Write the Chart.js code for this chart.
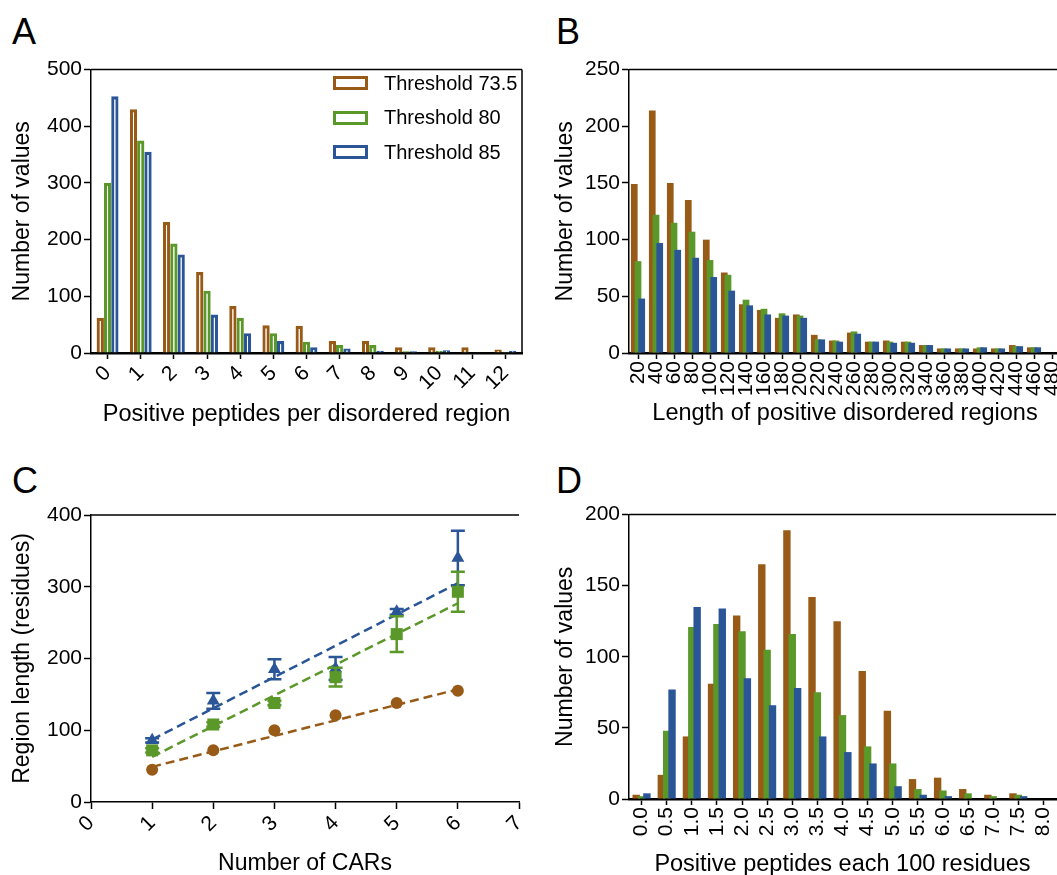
<!DOCTYPE html>
<html>
<head>
<meta charset="utf-8">
<script src="https://cdn.jsdelivr.net/npm/chart.js@4.4.0/dist/chart.umd.min.js"></script>
<style>
  html, body { margin: 0; padding: 0; background: #fff; width: 1057px; height: 875px; overflow: hidden; }
  canvas { position: absolute; }
  .letter { position: absolute; font-family: "Liberation Sans", Arial, sans-serif; font-size: 36px; line-height: 1; color: #000; }
  #legendA { position: absolute; left: 333px; top: 66px; font-family: "Liberation Sans", Arial, sans-serif; font-size: 20px; color: #000; }
  #legendA div { height: 34.5px; display: flex; align-items: center; }
  #legendA span.box { display: inline-block; width: 29px; height: 8px; border: 3px solid; margin-right: 16px; background: #fff; }
</style>
</head>
<body>
<div class="letter" style="left:12px; top:14px;">A</div>
<div class="letter" style="left:556px; top:14px;">B</div>
<div class="letter" style="left:12px; top:463px;">C</div>
<div class="letter" style="left:556px; top:463px;">D</div>

<canvas id="chartA" width="532" height="390" style="left:0px; top:55px;"></canvas>
<canvas id="chartB" width="560" height="390" style="left:540px; top:55px;"></canvas>
<canvas id="chartC" width="545" height="380" style="left:0px; top:500px;"></canvas>
<canvas id="chartD" width="540" height="380" style="left:540px; top:500px;"></canvas>
<div id="legendA"></div>

<script>
/* series names and colours shared by all four panels */
var thresholds = ["Threshold 73.5", "Threshold 80", "Threshold 85"];
var colors = ["#985a17", "#5b982a", "#2a5597"];

/* A - positive peptides per disordered region */
var peptideCounts = ["0", "1", "2", "3", "4", "5", "6", "7", "8", "9", "10", "11", "12"];
var a735 = [62, 430, 231, 143, 83, 49, 48, 21, 21, 10, 10, 10, 6];
var a80 = [300, 375, 193, 110, 62, 35, 20, 14, 14, 3, 4, 0, 2];
var a85 = [453, 355, 174, 68, 35, 21, 10, 8, 4, 3, 5, 0, 4];

/* B - length of positive disordered regions */
var regionLengths = ["20", "40", "60", "80", "100", "120", "140", "160", "180", "200", "220", "240",
  "260", "280", "300", "320", "340", "360", "380", "400", "420", "440", "460", "480"];
var b735 = [149, 214, 150, 135, 100, 71, 43, 38, 31, 34, 16, 11, 18, 10, 11, 10, 7, 4, 4, 4, 4, 7, 5, 0];
var b80 = [81, 122, 115, 107, 82, 69, 47, 39, 35, 33, 12, 11, 19, 10, 10, 10, 7, 4, 4, 5, 4, 6, 5, 0];
var b85 = [48, 97, 91, 84, 67, 55, 42, 34, 33, 31, 12, 10, 17, 10, 9, 9, 7, 4, 4, 5, 4, 6, 5, 0];

/* C - region length vs number of CARs (mean, error) and linear fits */
var cars = [1, 2, 3, 4, 5, 6];
var c735 = [45, 72, 100, 121, 138, 155];
var c735Err = [0, 0, 0, 0, 0, 0];
var c80 = [72, 108, 138, 174, 234, 293];
var c80Err = [3, 3, 3, 13, 25, 28];
var c85 = [86, 141, 185, 186, 265, 340];
var c85Err = [3, 11, 14, 16, 4, 38];
var fitX = [1, 6];
var fit735 = [49, 157];
var fit80 = [63, 277];
var fit85 = [87, 305];

/* D - positive peptides each 100 residues */
var per100 = ["0.0", "0.5", "1.0", "1.5", "2.0", "2.5", "3.0", "3.5", "4.0", "4.5", "5.0", "5.5",
  "6.0", "6.5", "7.0", "7.5", "8.0"];
var d735 = [3, 17, 44, 81, 129, 165, 189, 142, 125, 90, 62, 14, 15, 7, 3, 4, 0];
var d80 = [2, 48, 121, 123, 118, 105, 116, 75, 59, 37, 25, 7, 6, 4, 2, 3, 0];
var d85 = [4, 77, 135, 134, 85, 66, 78, 44, 33, 25, 9, 3, 2, 0, 0, 2, 0];

var FONT = "'Liberation Sans', Arial, sans-serif";
Chart.defaults.font.family = FONT;
Chart.defaults.color = "#000";

/* top line (and right line for A) round the plot area */
var frame = {
  id: "frame",
  afterDraw: function (chart, args, opts) {
    var a = chart.chartArea;
    var ctx = chart.ctx;
    ctx.save();
    ctx.strokeStyle = "#000";
    ctx.lineWidth = 1.5;
    ctx.beginPath();
    ctx.moveTo(a.left, a.top);
    ctx.lineTo(a.right, a.top);
    if (opts.right) {
      ctx.moveTo(a.right, a.top);
      ctx.lineTo(a.right, a.bottom);
    }
    ctx.stroke();
    ctx.restore();
  }
};

/* overlapping bars: draw the datasets first to last so blue ends on top */
var drawInOrder = {
  id: "drawInOrder",
  beforeDatasetsDraw: function (chart) {
    chart.getSortedVisibleDatasetMetas().forEach(function (m) {
      m.controller.draw();
    });
    return false;
  }
};

/* error bars for panel C, read from dataset.errors */
var errorBars = {
  id: "errorBars",
  beforeDatasetDraw: function (chart, args) {
    var ds = chart.data.datasets[args.index];
    if (!ds.errors) return;
    var yScale = chart.scales.y;
    var ctx = chart.ctx;
    ctx.save();
    ctx.strokeStyle = ds.borderColor;
    ctx.lineWidth = 2.5;
    args.meta.data.forEach(function (pt, i) {
      var e = ds.errors[i];
      if (!e) return;
      var v = ds.data[i].y;
      var top = yScale.getPixelForValue(v + e);
      var bot = yScale.getPixelForValue(v - e);
      ctx.beginPath();
      ctx.moveTo(pt.x, top); ctx.lineTo(pt.x, bot);
      ctx.moveTo(pt.x - 7, top); ctx.lineTo(pt.x + 7, top);
      ctx.moveTo(pt.x - 7, bot); ctx.lineTo(pt.x + 7, bot);
      ctx.stroke();
    });
    ctx.restore();
  }
};

function yAxis(max, step, title, width, titlePad) {
  return {
    min: 0, max: max,
    ticks: { stepSize: step, padding: 2, font: { size: 21 } },
    grid: { drawOnChartArea: false, tickLength: 7, color: "#000", tickWidth: 1.5 },
    border: { color: "#000", width: 1.5 },
    title: { display: true, text: title, font: { size: 23 }, padding: { top: titlePad, bottom: 0 } },
    afterFit: function (s) { s.width = width; }
  };
}

function xCategory(title, rotation, height, titlePad) {
  return {
    type: "category",
    offset: true,
    ticks: { minRotation: rotation, maxRotation: rotation, autoSkip: false, padding: 2, font: { size: 21 } },
    grid: { offset: false, drawOnChartArea: false, tickLength: 6, color: "#000", tickWidth: 1.5 },
    border: { color: "#000", width: 2.5, dash: [3, 4] },
    title: { display: true, text: title, font: { size: 23.5 }, padding: { top: 0, bottom: titlePad } },
    afterFit: function (s) { s.height = height; }
  };
}

function barSets(series, hollow, catPct, barPct) {
  return series.map(function (vals, i) {
    return {
      label: thresholds[i],
      data: vals,
      backgroundColor: hollow ? "#fff" : colors[i],
      borderColor: colors[i],
      borderWidth: hollow ? 3.2 : 0,
      borderSkipped: "start",
      categoryPercentage: catPct,
      barPercentage: barPct
    };
  });
}

/* A */
new Chart(document.getElementById("chartA"), {
  type: "bar",
  data: { labels: peptideCounts, datasets: barSets([a735, a80, a85], true, 0.66, 1.0) },
  options: {
    responsive: false, animation: false,
    layout: { padding: { left: 0, top: 12, right: 10, bottom: 0 } },
    plugins: { legend: { display: false }, tooltip: { enabled: false }, frame: { right: true } },
    scales: {
      x: xCategory("Positive peptides per disordered region", 45, 92, 16),
      y: yAxis(500, 100, "Number of values", 91, 9)
    }
  },
  plugins: [frame]
});

/* legend for A, built from the series names and colours */
var legendA = document.getElementById("legendA");
thresholds.forEach(function (name, i) {
  var row = document.createElement("div");
  var box = document.createElement("span");
  box.className = "box";
  box.style.borderColor = colors[i];
  row.appendChild(box);
  row.appendChild(document.createTextNode(name));
  legendA.appendChild(row);
});

/* B */
new Chart(document.getElementById("chartB"), {
  type: "bar",
  data: { labels: regionLengths, datasets: barSets([b735, b80, b85], false, 0.62, 1.8) },
  options: {
    responsive: false, animation: false,
    layout: { padding: { left: 0, top: 12, right: 39, bottom: 0 } },
    plugins: { legend: { display: false }, tooltip: { enabled: false }, frame: { right: false } },
    scales: {
      x: xCategory("Length of positive disordered regions", 90, 92, 17),
      y: yAxis(250, 50, "Number of values", 89, 12)
    }
  },
  plugins: [frame, drawInOrder]
});

/* C */
function pts(ys) {
  return ys.map(function (y, i) { return { x: cars[i], y: y }; });
}
function fitLine(ys) {
  return ys.map(function (y, i) { return { x: fitX[i], y: y }; });
}
var cSeries = [
  { vals: c735, err: c735Err, fit: fit735, style: "circle", r: 6 },
  { vals: c80, err: c80Err, fit: fit80, style: "rect", r: 8.5 },
  { vals: c85, err: c85Err, fit: fit85, style: "triangle", r: 7.5 }
];
var cSets = [];
cSeries.forEach(function (s, i) {
  cSets.push({
    label: thresholds[i],
    data: pts(s.vals),
    errors: s.err,
    showLine: false,
    pointStyle: s.style,
    pointRadius: s.r,
    backgroundColor: colors[i],
    borderColor: colors[i],
    borderWidth: 0
  });
});
cSeries.forEach(function (s, i) {
  cSets.push({
    label: thresholds[i] + " fit",
    data: fitLine(s.fit),
    showLine: true,
    pointRadius: 0,
    borderColor: colors[i],
    borderWidth: 2.5,
    borderDash: [9, 5]
  });
});

new Chart(document.getElementById("chartC"), {
  type: "scatter",
  data: { datasets: cSets },
  options: {
    responsive: false, animation: false,
    layout: { padding: { left: 0, top: 15, right: 26, bottom: 0 } },
    plugins: { legend: { display: false }, tooltip: { enabled: false }, frame: { right: false } },
    scales: {
      x: {
        type: "linear", min: 0, max: 7,
        ticks: { stepSize: 1, minRotation: 45, maxRotation: 45, padding: 2, font: { size: 21 } },
        grid: { drawOnChartArea: false, tickLength: 7, color: "#000", tickWidth: 1.5 },
        border: { color: "#000", width: 1.5 },
        title: { display: true, text: "Number of CARs", font: { size: 23 }, padding: { top: 0, bottom: 3 } },
        afterFit: function (s) { s.height = 78; }
      },
      y: yAxis(400, 100, "Region length (residues)", 91, 9)
    }
  },
  plugins: [frame, errorBars]
});

/* D */
new Chart(document.getElementById("chartD"), {
  type: "bar",
  data: { labels: per100, datasets: barSets([d735, d80, d85], false, 0.64, 1.38) },
  options: {
    responsive: false, animation: false,
    layout: { padding: { left: 0, top: 13, right: 24, bottom: 0 } },
    plugins: { legend: { display: false }, tooltip: { enabled: false }, frame: { right: false } },
    scales: {
      x: xCategory("Positive peptides each 100 residues", 90, 81, 1),
      y: yAxis(200, 50, "Number of values", 89, 12)
    }
  },
  plugins: [frame, drawInOrder]
});
</script>
</body>
</html>
